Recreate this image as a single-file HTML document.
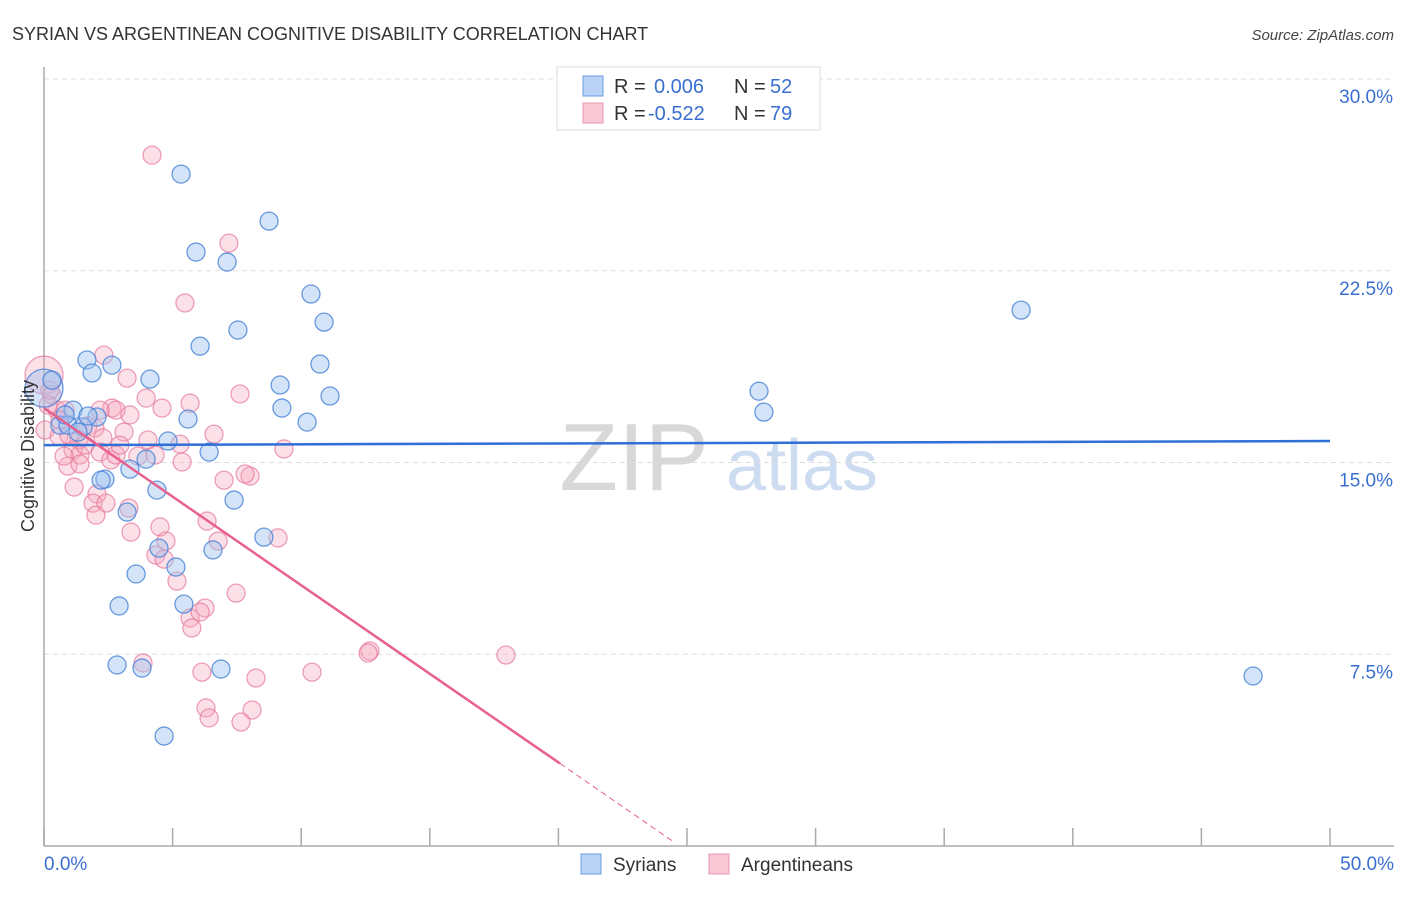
<!DOCTYPE html>
<html><head><meta charset="utf-8"><style>
body{margin:0;background:#fff;font-family:"Liberation Sans",sans-serif;}
svg text{font-family:"Liberation Sans",sans-serif;}
</style></head><body>
<svg id="chart" width="1406" height="892" xmlns="http://www.w3.org/2000/svg">
<text x="12" y="40" font-size="18" fill="#333">SYRIAN VS ARGENTINEAN COGNITIVE DISABILITY CORRELATION CHART</text>
<text x="1394" y="40" font-size="15" fill="#444" font-style="italic" text-anchor="end">Source: ZipAtlas.com</text>
<g>
<text x="634" y="490" font-size="96" fill="#d8d8d8" text-anchor="middle" font-family="Liberation Serif, serif">ZIP</text>
<text x="802" y="490" font-size="72" fill="#cddcf0" text-anchor="middle">atlas</text>
</g>
<g id="grid"></g>
<g id="axes"></g>
<g id="points"></g>
<g id="lines"></g>
<text transform="translate(34,456) rotate(-90)" font-size="18" fill="#333" text-anchor="middle">Cognitive Disability</text>
<text x="44" y="870" font-size="19" fill="#3a6fd0">0.0%</text>
<text x="1394" y="870" font-size="19" fill="#3a6fd0" text-anchor="end">50.0%</text>
<g>
<rect x="557" y="67" width="263" height="63" fill="#fff" stroke="#ddd"/>
<rect x="583" y="76" width="20" height="20" fill="#b8d3f5" stroke="#6a9be0"/>
<rect x="583" y="103" width="20" height="20" fill="#f9c8d7" stroke="#eb96b1"/>
<text x="614" y="93" font-size="20" fill="#333">R =</text>
<text x="654" y="93" font-size="20" fill="#3a6fd0">0.006</text>
<text x="734" y="93" font-size="20" fill="#333">N =</text>
<text x="770" y="93" font-size="20" fill="#3a6fd0">52</text>
<text x="614" y="120" font-size="20" fill="#333">R =</text>
<text x="648" y="120" font-size="20" fill="#3a6fd0">-0.522</text>
<text x="734" y="120" font-size="20" fill="#333">N =</text>
<text x="770" y="120" font-size="20" fill="#3a6fd0">79</text>
</g>
<g>
<rect x="581" y="854" width="20" height="20" fill="#b8d3f5" stroke="#6a9be0"/>
<text x="613" y="871" font-size="19" fill="#333">Syrians</text>
<rect x="709" y="854" width="20" height="20" fill="#f9c8d7" stroke="#eb96b1"/>
<text x="741" y="871" font-size="19" fill="#333">Argentineans</text>
</g>
</svg>
<script>
const yTicks=[7.5,15,22.5,30];
const yTickLabels=["7.5%","15.0%","22.5%","30.0%"];
const xTicks=[0,5,10,15,20,25,30,35,40,45,50];
const syrX=[0,5.33,8.75,5.91,7.12,10.38,10.89,7.54,6.07,1.67,2.64,1.87,4.12,10.73,9.18,11.12,9.25,10.23,5.60,1.13,2.06,0.62,0.93,1.52,1.32,4.82,6.42,3.97,3.34,2.37,2.22,4.39,7.39,3.23,8.55,4.47,6.57,5.13,3.58,5.44,2.92,2.84,3.81,6.88,4.67,37.99,27.80,27.99,47.01,0.31,0.82,1.71];
const syrY=[17.91,26.28,24.44,23.23,22.84,21.59,20.49,20.18,19.55,19.01,18.81,18.50,18.26,18.85,18.03,17.60,17.13,16.58,16.70,17.05,16.78,16.46,16.46,16.39,16.19,15.84,15.41,15.13,14.74,14.35,14.31,13.92,13.53,13.06,12.08,11.65,11.58,10.91,10.64,9.46,9.39,7.08,6.96,6.92,4.30,20.96,17.79,16.97,6.65,18.22,16.86,16.82];
const argX=[0,4.20,7.19,5.48,2.33,3.23,7.62,3.97,5.68,2.64,4.59,2.80,0.31,0.51,0.16,0.82,4.04,5.29,6.61,3.11,1.71,1.98,2.29,0.58,0.97,1.36,1.13,1.40,2.18,2.60,3.65,5.37,0.93,1.40,2.80,1.17,2.06,1.91,2.41,2.02,9.33,8.01,7.00,3.30,6.34,4.51,3.38,6.77,9.10,4.74,4.35,4.67,5.17,7.47,6.26,5.68,6.07,5.75,3.85,6.14,8.24,10.42,12.67,12.60,17.96,6.30,8.09,6.42,7.66,0.23,0.04,0.62,1.59,2.95,4.32,7.82,3.34,2.18,0.78];
const argY=[18.42,27.02,23.58,21.24,19.20,18.30,17.68,17.52,17.32,17.13,17.13,17.05,17.64,17.05,17.25,17.05,15.88,15.72,16.11,16.19,16.43,16.35,15.96,16.03,16.07,15.88,15.49,15.29,15.41,15.10,15.25,15.02,14.86,14.94,15.29,14.04,13.77,13.41,13.41,12.94,15.53,14.47,14.31,13.22,12.71,12.48,12.28,11.93,12.05,11.93,11.38,11.22,10.36,9.89,9.31,8.92,9.15,8.53,7.16,6.80,6.57,6.80,7.63,7.55,7.47,5.40,5.32,5.01,4.85,17.83,16.27,16.66,15.68,15.68,15.29,14.55,16.86,17.05,15.25];
const syrLine=[15.68,15.84];
const argLine=[17.13,-0.693];
const argSolidEnd=20.06, argDashEnd=24.42;

const NS="http://www.w3.org/2000/svg";
const X0=44,X1=1330,Y0=846,YTOP=79;
const sx=v=>X0+(v/50)*(X1-X0);
const sy=v=>Y0-(v/30)*(Y0-YTOP);
function mk(tag,attrs,parent){const e=document.createElementNS(NS,tag);for(const k in attrs)e.setAttribute(k,attrs[k]);parent.appendChild(e);return e;}
const grid=document.getElementById('grid'),axes=document.getElementById('axes'),pts=document.getElementById('points'),lines=document.getElementById('lines');
yTicks.forEach((t,i)=>{
  const l=mk('line',{x1:X0,x2:1394,y1:sy(t),y2:sy(t),stroke:'#ddd','stroke-dasharray':'5,4'},grid);
  
  
  const tx=mk('text',{x:1393,y:sy(t)+24,'font-size':19,fill:'#3a6fd0','text-anchor':'end'},grid);
  tx.textContent=yTickLabels[i];
  
  
});
const ya=mk('line',{x1:X0,x2:X0,y1:67,y2:Y0,stroke:'#aaa','stroke-width':1.5},axes);


const xa=mk('line',{x1:X0,x2:1394,y1:Y0,y2:Y0,stroke:'#aaa','stroke-width':1.5},axes);


xTicks.forEach(t=>{
  const l=mk('line',{x1:sx(t),x2:sx(t),y1:828,y2:Y0,stroke:'#aaa','stroke-width':1.5},axes);
  
  
});
function drawSeries(xs,ys,fill,stroke,name){
  xs.forEach((x,i)=>{
    const r=i===0?19:9;
    const c=mk('circle',{cx:sx(x),cy:sy(ys[i]),r:r,fill:fill,stroke:stroke,'stroke-width':1.3},pts);
    
    
  });
}
drawSeries(argX,argY,'rgba(245,165,190,0.35)','rgba(230,120,155,0.7)','argentinean-point');
drawSeries(syrX,syrY,'rgba(160,196,240,0.45)','rgba(70,130,215,0.8)','syrian-point');
const bl=mk('line',{x1:sx(0),y1:sy(syrLine[0]),x2:sx(50),y2:sy(syrLine[1]),stroke:'#2f6fd6','stroke-width':2.5},lines);


const pl=mk('line',{x1:sx(0),y1:sy(argLine[0]),x2:sx(argSolidEnd),y2:sy(argLine[0]+argLine[1]*argSolidEnd),stroke:'#e7608e','stroke-width':2.5},lines);


const pd=mk('line',{x1:sx(argSolidEnd),y1:sy(argLine[0]+argLine[1]*argSolidEnd),x2:sx(argDashEnd),y2:sy(argLine[0]+argLine[1]*argDashEnd),stroke:'#e7608e','stroke-width':1,'stroke-dasharray':'6,4'},lines);


</script>
</body></html>
